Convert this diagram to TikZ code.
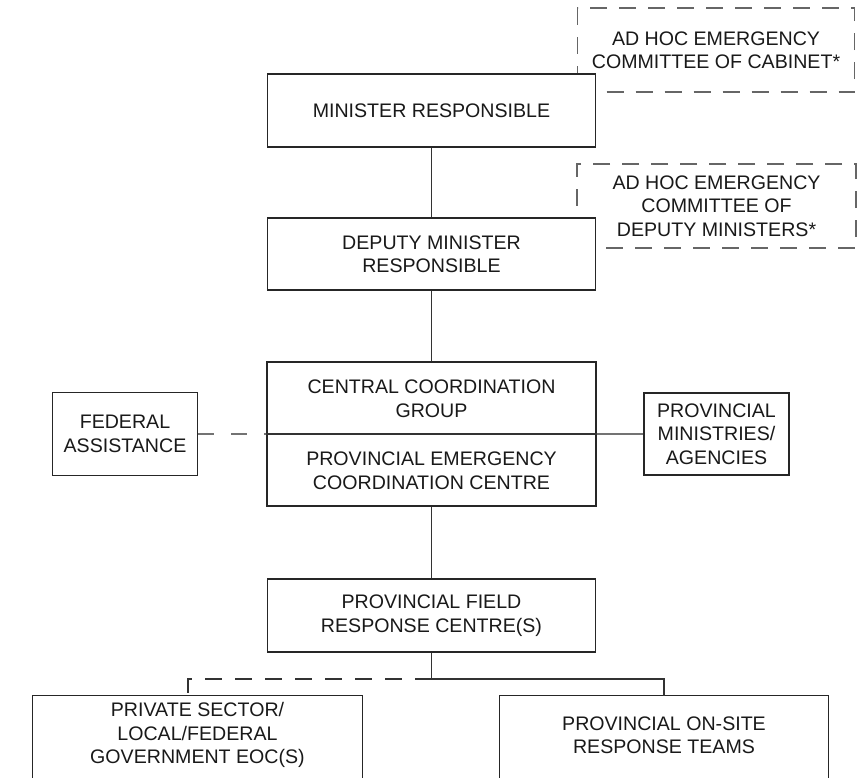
\documentclass[tikz,border=0pt]{standalone}
\usepackage{fontspec}
\setmainfont{Liberation Sans}
\usetikzlibrary{positioning}

\begin{document}
\begin{tikzpicture}[x=1pt,y=-1pt,
    every node/.style={inner sep=0pt, align=center, text=black!90,
      font=\fontsize{19.6}{23.5}\selectfont},
    box/.style={draw=black!85, fill=white, line width=1.1pt},
    openbox/.style={draw=black!85, line width=1.1pt},
    adhoc/.style={draw=black!60, fill=white, line width=1.1pt,
      dash pattern=on 17pt off 12pt},
    link/.style={draw=black!80, line width=1.1pt},
    sidelink/.style={draw=black!55, line width=1.1pt},
    sidedash/.style={sidelink, dash pattern=on 16pt off 17pt}]
    \useasboundingbox (0,0) rectangle (865,777);
    \clip (0,0) rectangle (865,777);
    \node [adhoc, minimum width=277, minimum height=84] (cabinet) at (716,50)
      {AD HOC EMERGENCY\\COMMITTEE OF CABINET*};
    \node [adhoc, minimum width=279, minimum height=84] (dmcommittee) at (716.5,206)
      {AD HOC EMERGENCY\\COMMITTEE OF\\DEPUTY MINISTERS*};
    \node [box, minimum width=328, minimum height=73] (minister) at (431.5,110.5)
      {MINISTER RESPONSIBLE};
    \node [box, minimum width=328, minimum height=72] (deputy) at (431.5,254)
      {DEPUTY MINISTER\\RESPONSIBLE};
    \node [box, minimum width=329, minimum height=144] (centre) at (431.5,434) {};
    \node (ccg) at (431.5,398.5) {CENTRAL COORDINATION\\GROUP};
    \node (pecc) at (431.5,470.5) {PROVINCIAL EMERGENCY\\COORDINATION CENTRE};
    \draw [link] (centre.west) -- (centre.east);
    \node [box, minimum width=145, minimum height=83] (federal) at (125,434)
      {FEDERAL\\ASSISTANCE};
    \node [box, minimum width=145, minimum height=82] (ministries) at (716.5,434)
      {PROVINCIAL\\MINISTRIES/\\AGENCIES};
    \node [box, minimum width=328, minimum height=73] (field) at (431.5,615.5)
      {PROVINCIAL FIELD\\RESPONSE CENTRE(S)};
    \node [minimum width=329, minimum height=78] (private) at (197.5,735)
      {PRIVATE SECTOR/\\LOCAL/FEDERAL\\GOVERNMENT EOC(S)};
    \node [minimum width=328, minimum height=78] (onsite) at (664,735)
      {PROVINCIAL ON-SITE\\RESPONSE TEAMS};
    \draw [openbox] (private.south west) ++(0,30) |- (private.north east) -- ++(0,110);
    \draw [openbox] (onsite.south west) ++(0,30) |- (onsite.north east) -- ++(0,110);
    \draw [link] (minister) -- (deputy);
    \draw [link] (deputy) -- (centre);
    \draw [sidedash] (federal.east) -- (centre.west);
    \draw [sidelink] (centre.east) -- (ministries.west);
    \draw [link] (centre) -- (field);
    \coordinate (bus) at (431.5,679);
    \coordinate (privtop) at (188,696);
    \draw [link] (field.south) -- (bus) -| (onsite.north);
    \draw [link, dash pattern=on 17pt off 13pt] (bus) -| (privtop);
\end{tikzpicture}
\end{document}
